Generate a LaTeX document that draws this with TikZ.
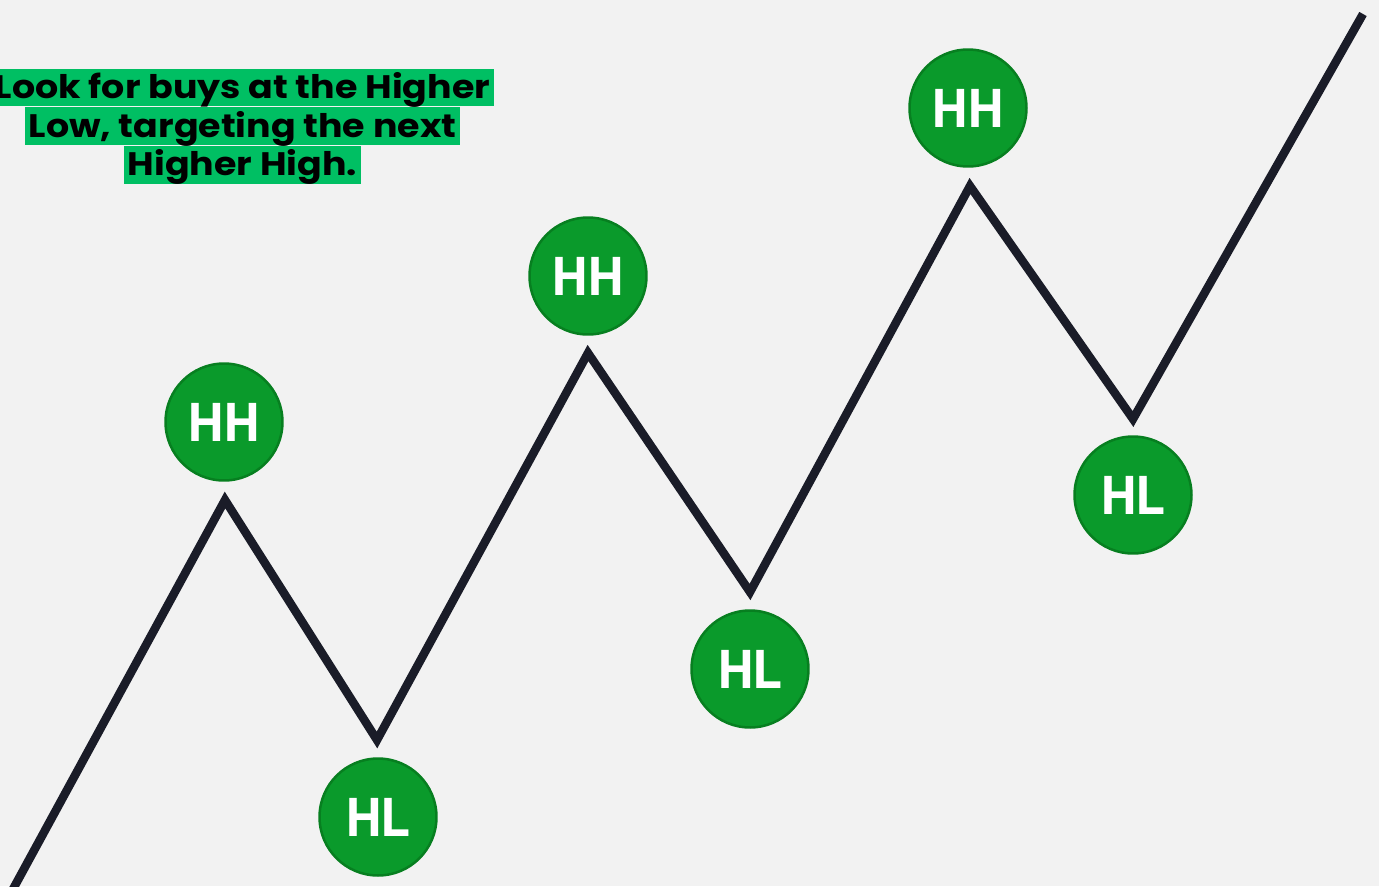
\documentclass[tikz,border=0pt]{standalone}
\usepackage{fontspec}
\setmainfont[FakeStretch=1.12]{Poppins}
\newfontfamily\dotfont{PT Sans}
\usetikzlibrary{positioning}
\definecolor{paper}{HTML}{F2F2F2}
\definecolor{tagreen}{HTML}{00BF63}
\definecolor{dotgreen}{HTML}{0A9A2B}
\definecolor{dotrim}{HTML}{077F20}
\definecolor{ink}{HTML}{1A1C28}
\begin{document}
\begin{tikzpicture}[x=0.02cm,y=-0.02cm]
	\tikzstyle{hh} = [circle, fill=dotgreen, draw=dotrim, line width=0.05cm,
		minimum size=2.34cm, inner sep=0pt, text=white,
		font=\dotfont\bfseries\fontsize{31}{31}\selectfont]
	\tikzstyle{hl} = [hh]
	\tikzstyle{tag} = [fill=tagreen, inner xsep=0.08cm, inner ysep=0pt,
		text height=0.6cm, text depth=0.16cm,
		font=\bfseries\fontsize{18.5}{18.5}\selectfont]
	\tikzstyle{wave} = [draw=ink, line width=0.17cm, miter limit=20]
	\useasboundingbox (0,0) rectangle (1379,886);
	\fill[paper] (0,0) rectangle (1379,886);
	\clip (0,0) rectangle (1379,886);
	% swing points of the trend
	\coordinate (p0) at (0,913);
	\coordinate (p1) at (225,500);
	\coordinate (p2) at (377,740);
	\coordinate (p3) at (588,353);
	\coordinate (p4) at (750,592);
	\coordinate (p5) at (970,186);
	\coordinate (p6) at (1133,419);
	\coordinate (p7) at (1363,14);
	\draw[wave] (p0) -- (p1) -- (p2) -- (p3) -- (p4) -- (p5) -- (p6) -- (p7);
	% labels
	\node[hh] (hh-1) at (224,422) {HH};
	\node[hl] (hl-1) at (378,817) {HL};
	\node[hh] (hh-2) at (588,276) {HH};
	\node[hl] (hl-2) at (750,669) {HL};
	\node[hh] (hh-3) at (968,108) {HH};
	\node[hl] (hl-3) at (1133,495) {HL};
	% note
	\node[tag] (note-1) at (242.5,87.5) {Look for buys at the Higher};
	\node[tag, below=0pt of note-1] (note-2) {Low, targeting the next};
	\node[tag, below=0pt of note-2] (note-3) {Higher High.};
\end{tikzpicture}
\end{document}
